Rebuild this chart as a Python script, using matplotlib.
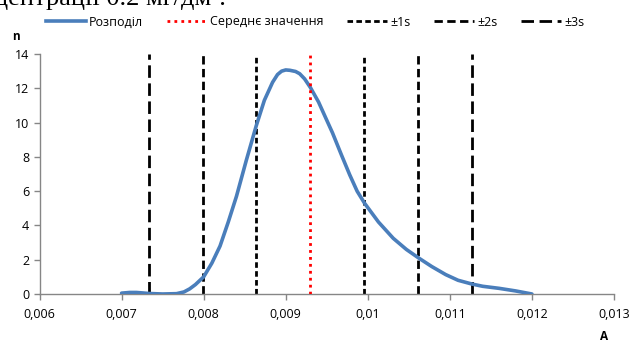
import matplotlib
matplotlib.use('Agg')
import matplotlib.pyplot as plt
from matplotlib.lines import Line2D

# values
dist_x = [0.0070, 0.00710, 0.00718, 0.00726, 0.00733, 0.0075, 0.00767, 0.00776,
          0.00783, 0.0079, 0.0080, 0.0081, 0.0082, 0.0083, 0.0084, 0.00852,
          0.00864, 0.00874, 0.00884, 0.00890, 0.00895, 0.00900, 0.00905,
          0.00912, 0.00917, 0.00923, 0.0093, 0.0094, 0.00948, 0.00957,
          0.00968, 0.00978, 0.00987, 0.00996, 0.01013, 0.01031, 0.01047,
          0.01062, 0.01078, 0.01095, 0.01110, 0.01127, 0.0114, 0.0116,
          0.0118, 0.0120]
dist_y = [0.05, 0.09, 0.09, 0.06, 0.03, 0.0, 0.02, 0.12,
          0.3, 0.55, 1.0, 1.8, 2.8, 4.2, 5.7, 7.8,
          9.8, 11.3, 12.35, 12.8, 13.0, 13.07, 13.05,
          12.98, 12.85, 12.55, 12.05, 11.2, 10.35, 9.4,
          8.1, 6.95, 6.0, 5.3, 4.2, 3.25, 2.6,
          2.1, 1.6, 1.13, 0.8, 0.58, 0.45, 0.33,
          0.18, 0.0]

mean_val = 0.0093
s_val = 0.000656

x_ticks = [0.006, 0.007, 0.008, 0.009, 0.010, 0.011, 0.012, 0.013]
x_labels = ['0,006', '0,007', '0,008', '0,009', '0,01', '0,011', '0,012', '0,013']
y_ticks = [0, 2, 4, 6, 8, 10, 12, 14]

blue = '#4A7EBB'
gray = '#868686'
font = 'Open Sans'

fig = plt.figure(figsize=(6.33, 3.45), dpi=100)
ax = fig.add_axes([39.5 / 633, 51 / 345, (614 - 39.5) / 633, (294 - 54) / 345])

ax.plot(dist_x, dist_y, color=blue, lw=2.6, solid_capstyle='round',
        solid_joinstyle='round', zorder=3)
ax.plot([mean_val, mean_val], [0, 14], color='red', lw=2, dashes=(1, 1.5), zorder=4)

styles = {1: (2.0, 1.2), 2: (3.0, 1.6), 3: (4.5, 2.0)}
for k in [1, 2, 3]:
    for sign in [-1, 1]:
        xv = mean_val + sign * k * s_val
        ax.plot([xv, xv], [0, 14], color='black', lw=2, dashes=styles[k], zorder=2)

ax.set_xlim(0.006, 0.013)
ax.set_ylim(0, 14)
ax.set_xticks(x_ticks)
ax.set_xticklabels(x_labels)
ax.set_yticks(y_ticks)
for side in ['top', 'right']:
    ax.spines[side].set_visible(False)
for side in ['left', 'bottom']:
    ax.spines[side].set_color(gray)
    ax.spines[side].set_linewidth(1)
ax.tick_params(axis='both', colors=gray, length=4, width=1, labelcolor='black',
               labelsize=9)
ax.tick_params(axis='x', pad=6)
for lab in ax.get_xticklabels() + ax.get_yticklabels():
    lab.set_family(font)

fig.text(16 / 633, 1 - 37 / 345, 'n', fontsize=8.5, fontweight='bold',
         family=font, ha='center', va='center')
fig.text(604 / 633, 1 - 337 / 345, 'A', fontsize=8.5, fontweight='bold',
         family=font, ha='center', va='center')
fig.text(-0.01, 1 - 5 / 345, 'центрації 0.2 мг/дм³.', fontsize=19,
         family='Liberation Serif', ha='left', va='baseline')

handles = [
    Line2D([], [], color=blue, lw=2.6),
    Line2D([], [], color='red', lw=2, dashes=(1, 1.5)),
    Line2D([], [], color='black', lw=2, dashes=styles[1]),
    Line2D([], [], color='black', lw=2, dashes=styles[2]),
    Line2D([], [], color='black', lw=2, dashes=styles[3]),
]
labels = ['Розподіл', 'Середнє значення', '±1s', '±2s', '±3s']
fig.legend(handles, labels, loc='center', bbox_to_anchor=(0.498, 1 - 22 / 345),
           ncol=5, frameon=False, handlelength=3.2, handletextpad=0.25,
           columnspacing=1.9, prop={'family': font, 'size': 9})

fig.savefig('out.png', dpi=100)
